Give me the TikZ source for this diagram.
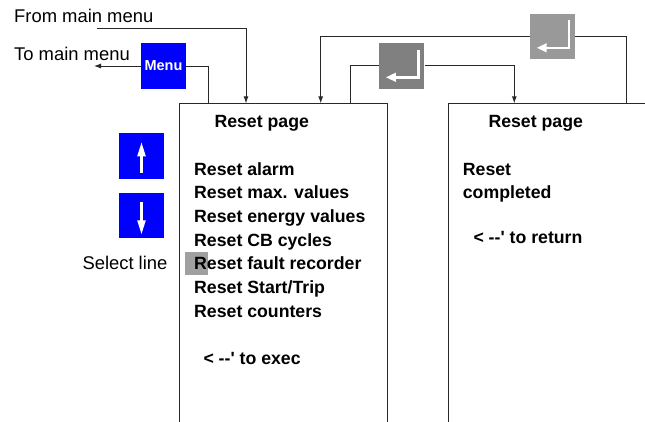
\documentclass[tikz,border=0pt]{standalone}
\usepackage{fontspec}
\setmainfont{Liberation Sans}
\usetikzlibrary{arrows.meta}

\definecolor{keyblue}{RGB}{0,0,255}
\definecolor{keydark}{RGB}{128,128,128}
\definecolor{keylight}{RGB}{153,153,153}
\definecolor{cursor}{RGB}{160,160,160}
\definecolor{wire}{RGB}{40,40,40}

\tikzset{
  key/.style={rectangle, minimum width=45pt, minimum height=45.5pt, inner sep=0pt},
  bluekey/.style={key, fill=keyblue},
  screen/.style={rectangle, draw=wire, line width=0.9pt, anchor=north west, inner sep=0pt},
  wirepath/.style={draw=wire, line width=0.9pt},
  arr/.style={wirepath, -{Latex[length=7pt,width=5pt]}},
  iconarr/.style={white, line width=2.4pt, -{Triangle[length=10pt,width=8.5pt]}},
  keyarr/.style={white, line width=2.2pt, -{Triangle[length=14pt,width=8pt]}},
  lbl/.style={font=\fontsize{18.4}{20}\selectfont, anchor=base west, inner sep=0pt},
  scr/.style={font=\bfseries\fontsize{17.7}{20}\selectfont, anchor=base west, inner sep=0pt}
}

\begin{document}
\begin{tikzpicture}[x=1pt, y=-1pt]
  \useasboundingbox (0,0) rectangle (645,421);
  \clip (0,0) rectangle (645,421);

  % the two display pages (open at the bottom / right)
  \node[screen, minimum width=208.8pt, minimum height=340pt] (s1) at (178.5,103.3) {};
  \node[screen, minimum width=260pt, minimum height=340pt] (s2) at (447.5,103.3) {};

  % keys
  \node[bluekey] (menu) at (163.5,66) {\textcolor{white}{\bfseries\fontsize{14.5}{16}\selectfont Menu}};
  \node[key, fill=keydark] (ent1) at (401.8,65.8) {};
  \node[key, fill=keylight] (ent2) at (552.6,36.3) {};
  \node[bluekey] (up) at (141.5,155.8) {};
  \node[bluekey] (down) at (141.5,215.3) {};

  % enter symbols
  \foreach \b in {ent1,ent2}
    \draw[iconarr] ([shift={(16.5,-16)}]\b.center) |- ([shift={(-16,11.5)}]\b.center);
  % arrow symbols
  \draw[keyarr] ([shift={(0,17)}]up.center) -- ([shift={(0,-13.5)}]up.center);
  \draw[keyarr] ([shift={(0,-13)}]down.center) -- ([shift={(0,19)}]down.center);

  % connector end points on the page tops
  \coordinate (frm) at (96.7,28.3);
  \coordinate (tomm) at (94,66);
  \coordinate (s1m) at (208.7,103.3);
  \coordinate (s1f) at (246,103.3);
  \coordinate (s1r) at (320.7,103.3);
  \coordinate (s1e) at (350,103.3);
  \coordinate (s2e) at (514.3,103.3);
  \coordinate (s2r) at (626.7,103.3);

  % connectors
  \draw[arr] (frm) -| (s1f);
  \draw[arr] (menu.west) -- (tomm);
  \draw[wirepath] (menu.east) -| (s1m);
  \draw[wirepath] (ent1.west) -| (s1e);
  \draw[arr] (ent1.east) -| (s2e);
  \draw[arr] (ent2.west) -| (s1r);
  \draw[wirepath] (ent2.east) -| (s2r);

  % side labels
  \node[lbl] (lfrom) at (14,22.3) {From main menu};
  \node[lbl] (lto) at (14,60) {To main menu};
  \node[lbl] (lsel) at (82.3,269) {Select line};

  % cursor
  \fill[cursor] (185,251.7) rectangle (208.3,275);

  % first page
  \node[scr] (t1) at (214.3,127.3) {Reset page};
  \node[scr] (i1) at (194,175) {Reset alarm};
  \node[scr] (i2) at (194,198.7) {Reset max. values};
  \node[scr] (i3) at (194,222.3) {Reset energy values};
  \node[scr] (i4) at (194,246) {Reset CB cycles};
  \node[scr] (i5) at (194,269.5) {Reset fault recorder};
  \node[scr] (i6) at (194,293.3) {Reset Start/Trip};
  \node[scr] (i7) at (194,317) {Reset counters};
  \node[scr] (ex) at (203.3,364) {< -{}-\textquotesingle{} to exec};

  % second page
  \node[scr] (t2) at (488.3,127.3) {Reset page};
  \node[scr] (r1) at (462.7,175.3) {Reset};
  \node[scr] (r2) at (462.7,198.7) {completed};
  \node[scr] (rt) at (473.3,243.3) {< -{}-\textquotesingle{} to return};
\end{tikzpicture}
\end{document}
